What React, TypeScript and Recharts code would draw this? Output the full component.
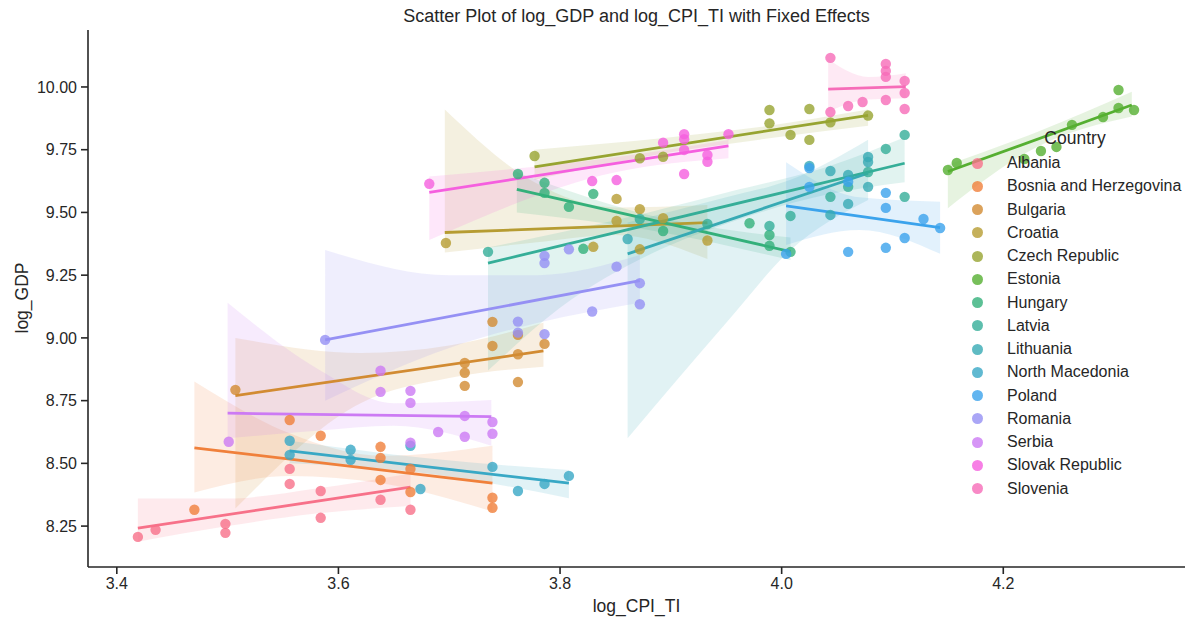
import React from 'react'
import { ComposedChart, Scatter, Line, Area, XAxis, YAxis } from 'recharts'

const countries = [
  'Albania', 'Bosnia and Herzegovina', 'Bulgaria', 'Croatia', 'Czech Republic',
  'Estonia', 'Hungary', 'Latvia', 'Lithuania', 'North Macedonia',
  'Poland', 'Romania', 'Serbia', 'Slovak Republic', 'Slovenia',
]
const colors = [
  '#f77189', '#f0803b', '#d28b32', '#b69c32', '#97a431',
  '#55af31', '#33b07a', '#35ae98', '#37aab4', '#38a8c5',
  '#3ba3ec', '#9590f4', '#cc7af4', '#f55fdf', '#f66cb8',
]

const xTicks = [3.4, 3.6, 3.8, 4.0, 4.2]
const yTicks = [8.25, 8.5, 8.75, 9.0, 9.25, 9.5, 9.75, 10.0]

// [log_CPI_TI, log_GDP]
const albania = [[3.419, 8.207], [3.435, 8.235], [3.498, 8.259], [3.498, 8.223], [3.556, 8.478], [3.556, 8.418], [3.584, 8.39], [3.584, 8.283], [3.638, 8.355], [3.665, 8.315]]
const bosnia = [[3.47, 8.315], [3.556, 8.673], [3.584, 8.61], [3.638, 8.566], [3.638, 8.522], [3.638, 8.434], [3.665, 8.478], [3.665, 8.386], [3.739, 8.363], [3.739, 8.323]]
const bulgaria = [[3.507, 8.793], [3.714, 8.9], [3.714, 8.861], [3.714, 8.809], [3.739, 9.064], [3.739, 8.968], [3.762, 9.012], [3.762, 8.935], [3.762, 8.824], [3.786, 8.976]]
const croatia = [[3.697, 9.378], [3.83, 9.363], [3.851, 9.554], [3.851, 9.466], [3.872, 9.513], [3.872, 9.353], [3.893, 9.477], [3.933, 9.388]]
const czech = [[3.777, 9.725], [3.872, 9.716], [3.893, 9.722], [3.989, 9.908], [3.989, 9.855], [4.008, 9.809], [4.025, 9.912], [4.025, 9.789], [4.044, 9.859], [4.078, 9.886]]
const estonia = [[4.15, 9.669], [4.158, 9.697], [4.219, 9.713], [4.234, 9.745], [4.248, 9.761], [4.262, 9.849], [4.29, 9.88], [4.304, 9.988], [4.304, 9.916], [4.318, 9.908]]
const hungary = [[3.762, 9.653], [3.786, 9.618], [3.786, 9.578], [3.808, 9.522], [3.83, 9.574], [3.821, 9.355], [3.893, 9.426], [3.971, 9.457], [3.989, 9.41], [3.989, 9.367], [4.008, 9.343]]
const latvia = [[3.735, 9.343], [3.872, 9.474], [3.933, 9.454], [3.989, 9.446], [4.008, 9.486], [4.044, 9.562], [4.06, 9.602], [4.078, 9.661], [4.094, 9.753], [4.111, 9.809], [4.111, 9.562]]
const lithuania = [[3.861, 9.394], [4.025, 9.685], [4.044, 9.665], [4.044, 9.49], [4.06, 9.649], [4.06, 9.534], [4.078, 9.721], [4.078, 9.701], [4.078, 9.602]]
const northMacedonia = [[3.556, 8.59], [3.556, 8.534], [3.611, 8.554], [3.611, 8.514], [3.665, 8.57], [3.674, 8.398], [3.739, 8.486], [3.762, 8.39], [3.786, 8.418], [3.808, 8.45]]
const poland = [[4.004, 9.335], [4.025, 9.677], [4.025, 9.602], [4.06, 9.343], [4.06, 9.622], [4.094, 9.578], [4.094, 9.518], [4.094, 9.359], [4.111, 9.398], [4.128, 9.474], [4.143, 9.438]]
const romania = [[3.588, 8.992], [3.762, 9.065], [3.762, 9.021], [3.786, 9.327], [3.786, 9.298], [3.786, 9.015], [3.808, 9.353], [3.829, 9.105], [3.851, 9.284], [3.872, 9.218], [3.872, 9.134]]
const serbia = [[3.501, 8.586], [3.638, 8.869], [3.638, 8.785], [3.665, 8.789], [3.665, 8.741], [3.665, 8.582], [3.69, 8.625], [3.714, 8.689], [3.714, 8.606], [3.739, 8.665], [3.739, 8.618]]
const slovak = [[3.682, 9.614], [3.829, 9.625], [3.851, 9.629], [3.893, 9.778], [3.912, 9.812], [3.912, 9.792], [3.912, 9.749], [3.912, 9.653], [3.933, 9.729], [3.933, 9.702], [3.952, 9.812]]
const slovenia = [[4.044, 10.116], [4.044, 9.9], [4.06, 9.924], [4.073, 9.94], [4.094, 10.092], [4.094, 10.064], [4.094, 10.04], [4.094, 9.948], [4.111, 10.024], [4.111, 9.976], [4.111, 9.912]]

// regression line end points
const fits = [
  [[3.419, 8.242], [3.665, 8.405]],
  [[3.47, 8.562], [3.739, 8.421]],
  [[3.507, 8.77], [3.785, 8.948]],
  [[3.696, 9.42], [3.933, 9.459]],
  [[3.777, 9.682], [4.078, 9.887]],
  [[4.15, 9.663], [4.316, 9.928]],
  [[3.761, 9.592], [4.008, 9.344]],
  [[3.735, 9.298], [4.111, 9.696]],
  [[3.861, 9.335], [4.078, 9.656]],
  [[3.556, 8.55], [3.808, 8.421]],
  [[4.004, 9.526], [4.143, 9.439]],
  [[3.588, 8.992], [3.872, 9.228]],
  [[3.5, 8.7], [3.738, 8.686]],
  [[3.682, 9.58], [3.952, 9.765]],
  [[4.042, 9.991], [4.112, 10.001]],
]

// confidence bands: [x, low, high]
const bands = [
  [[3.419, 8.188, 8.36], [3.5, 8.25, 8.36], [3.58, 8.3, 8.4], [3.665, 8.33, 8.46]],
  [[3.47, 8.384, 8.826], [3.556, 8.45, 8.62], [3.64, 8.42, 8.53], [3.739, 8.308, 8.57]],
  [[3.507, 8.32, 9.0], [3.62, 8.74, 8.94], [3.7, 8.84, 8.97], [3.785, 8.885, 9.06]],
  [[3.696, 9.34, 9.91], [3.777, 9.38, 9.62], [3.85, 9.41, 9.52], [3.933, 9.314, 9.53]],
  [[3.777, 9.63, 9.75], [3.9, 9.74, 9.8], [3.98, 9.79, 9.84], [4.078, 9.845, 9.91]],
  [[4.15, 9.517, 9.69], [4.23, 9.76, 9.82], [4.316, 9.882, 9.981]],
  [[3.761, 9.5, 9.66], [3.88, 9.43, 9.49], [4.008, 9.31, 9.4]],
  [[3.735, 8.87, 9.36], [3.8, 9.12, 9.42], [3.88, 9.33, 9.5], [3.96, 9.47, 9.59], [4.04, 9.57, 9.68], [4.111, 9.62, 9.8]],
  [[3.861, 8.6, 9.46], [3.95, 9.06, 9.56], [4.008, 9.35, 9.63], [4.078, 9.55, 9.79]],
  [[3.556, 8.5, 8.59], [3.68, 8.46, 8.52], [3.808, 8.361, 8.474]],
  [[4.004, 9.37, 9.7], [4.07, 9.43, 9.56], [4.143, 9.335, 9.543]],
  [[3.588, 8.75, 9.35], [3.7, 8.96, 9.25], [3.78, 9.06, 9.25], [3.872, 9.14, 9.33]],
  [[3.5, 8.6, 9.14], [3.58, 8.63, 8.88], [3.65, 8.65, 8.74], [3.738, 8.57, 8.753]],
  [[3.682, 9.39, 9.643], [3.85, 9.66, 9.72], [3.952, 9.716, 9.789]],
  [[4.042, 9.902, 10.11], [4.078, 9.95, 10.04], [4.112, 9.955, 10.055]],
]

const points = [albania, bosnia, bulgaria, croatia, czech, estonia, hungary, latvia, lithuania, northMacedonia, poland, romania, serbia, slovak, slovenia]

const series = countries.map((name, i) => ({
  name,
  color: colors[i],
  pts: points[i].map(([x, y]) => ({ x, y })),
  fit: fits[i].map(([x, y]) => ({ x, y })),
  band: bands[i].map(([x, lo, hi]) => ({ x, band: [lo, hi] })),
}))

const font = '"Liberation Sans", Arial, sans-serif'
const ink = '#262626'

export default function App() {
  return (
    <div style={{ position: 'absolute', left: 0, top: 0, width: 1194, height: 623, background: '#fff', fontFamily: font }}>
      <ComposedChart width={1194} height={623} margin={{ top: 30, right: 9, bottom: 0, left: 0 }}>
        <XAxis type="number" dataKey="x" domain={[3.374, 4.364]} ticks={xTicks} allowDataOverflow
          tickFormatter={(v) => v.toFixed(1)} height={56} stroke={ink} strokeWidth={1.6}
          tickSize={7} tickMargin={4} tick={{ fontSize: 16, fill: ink, fontFamily: font }} />
        <YAxis type="number" domain={[8.087, 10.227]} ticks={yTicks} allowDataOverflow
          tickFormatter={(v) => v.toFixed(2)} width={88} stroke={ink} strokeWidth={1.6}
          tickSize={7} tickMargin={4} tick={{ fontSize: 16, fill: ink, fontFamily: font }} />
        {series.map((s) => (
          <Area key={s.name + '-band'} data={s.band} dataKey="band" type="monotone" stroke="none"
            fill={s.color} fillOpacity={0.15} isAnimationActive={false} />
        ))}
        {series.map((s) => (
          <Scatter key={s.name + '-pts'} data={s.pts} dataKey="y" isAnimationActive={false}
            shape={(p: any) => <circle cx={p.cx} cy={p.cy} r={5.2} fill={s.color} fillOpacity={0.8} />} />
        ))}
        {series.map((s) => (
          <Line key={s.name + '-fit'} data={s.fit} dataKey="y" type="linear" stroke={s.color}
            strokeWidth={2.8} dot={false} activeDot={false} isAnimationActive={false} />
        ))}
      </ComposedChart>

      <div style={{ position: 'absolute', left: 88, width: 1097, top: 6, textAlign: 'center', fontSize: 18, color: ink }}>
        Scatter Plot of log_GDP and log_CPI_TI with Fixed Effects
      </div>
      <div style={{ position: 'absolute', left: 88, width: 1097, top: 596, textAlign: 'center', fontSize: 17.5, color: ink }}>
        log_CPI_TI
      </div>
      <div style={{ position: 'absolute', left: 22, top: 298, transform: 'translate(-50%, -50%) rotate(-90deg)', fontSize: 17.5, color: ink, whiteSpace: 'nowrap' }}>
        log_GDP
      </div>

      <div style={{ position: 'absolute', left: 1075, top: 138, transform: 'translate(-50%, -50%)', fontSize: 17.5, color: ink }}>
        Country
      </div>
      {series.map((s, i) => (
        <div key={s.name} style={{ position: 'absolute', left: 972, top: 163 + i * 23.25 - 11, height: 22, display: 'flex', alignItems: 'center', fontSize: 16, color: ink, whiteSpace: 'nowrap' }}>
          <span style={{ width: 11, height: 11, borderRadius: '50%', background: s.color, opacity: 0.8, display: 'inline-block', marginRight: 24 }} />
          {s.name}
        </div>
      ))}
    </div>
  )
}
